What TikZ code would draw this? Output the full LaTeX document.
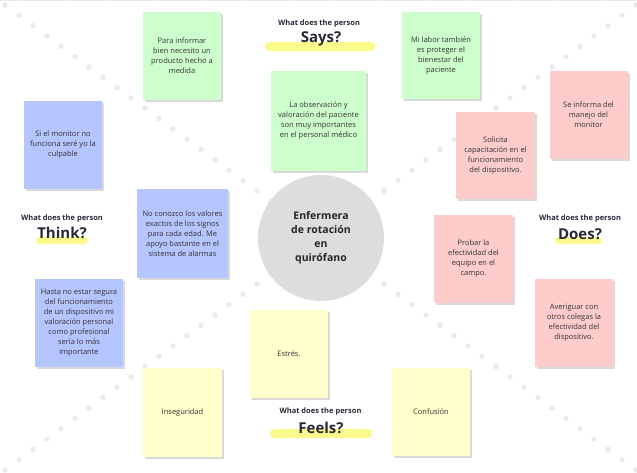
\documentclass[tikz,border=0pt]{standalone}
\usepackage{fontspec}
\setmainfont{Open Sans}
\usetikzlibrary{shadows}

\definecolor{notegreen}{RGB}{204,255,204}
\definecolor{notered}{RGB}{255,204,204}
\definecolor{noteblue}{RGB}{181,197,255}
\definecolor{noteyellow}{RGB}{255,255,204}
\definecolor{hubgray}{RGB}{221,221,221}
\definecolor{dotgray}{RGB}{234,234,234}
\definecolor{marker}{RGB}{250,250,140}
\definecolor{ink}{RGB}{51,51,51}
\definecolor{titleink}{RGB}{40,40,55}

\tikzset{
  note/.style={inner sep=0pt, text=ink, align=center,
    font=\fontsize{7.5}{10}\selectfont,
    drop shadow={shadow xshift=2pt, shadow yshift=-2pt, fill=black!15, opacity=1}},
  smallnote/.style={note, minimum width=78pt, minimum height=88pt},
  asktitle/.style={inner sep=0pt, text=titleink, font=\bfseries\fontsize{7.5}{9}\selectfont},
  bigword/.style={inner sep=0pt, text=titleink, font=\bfseries\fontsize{15}{17}\selectfont},
  markbar/.style={fill=marker, rounded corners=4pt},
  hub/.style={circle, fill=hubgray, minimum size=126pt, inner sep=0pt, align=center,
    text=black!85, font=\bfseries\fontsize{10.5}{14}\selectfont},
  dotfill/.style={fill=dotgray}
}

\begin{document}
\begin{tikzpicture}[x=1pt, y=-1pt]
  \useasboundingbox (0,0) rectangle (637,472);

  % faint rule along the top edge
  \draw[black!9, line width=1pt, dash pattern=on 43.8pt off 1pt, dash phase=22pt] (0,0.5) -- (637,0.5);

  % dotted diagonals from the four corners to the hub
  \foreach \k in {0,...,22} {
    \fill[dotfill] (5+14*\k, 5+10.33*\k) circle (2.7pt);
    \fill[dotfill] (636-14*\k, 5+10.33*\k) circle (2.7pt);
    \fill[dotfill] (5+14*\k, 470-10.33*\k) circle (2.7pt);
    \fill[dotfill] (636-14*\k, 470-10.33*\k) circle (2.7pt);
  }

  % central persona
  \node[hub] (hub) at (321,238) {Enfermera\\de rotación\\en\\quirófano};

  % Says
  \fill[markbar] (265,42) rectangle (375,51);
  \node[asktitle] (saysq) at (319,24) {What does the person};
  \node[bigword] (says) at (321,39) {Says?};
  \node[smallnote, fill=notegreen] (s1) at (182,56)
    {Para informar\\bien necesito un\\producto hecho a\\medida};
  \node[smallnote, fill=notegreen, minimum height=87pt] (s2) at (441,55.5)
    {Mi labor también\\es proteger el\\bienestar del\\paciente};
  \node[note, fill=notegreen, minimum width=95pt, minimum height=100pt] (s3) at (318.5,121)
    {La observación y\\valoración del paciente\\son muy importantes\\en el personal médico};

  % Think
  \fill[markbar, rounded corners=3.5pt] (36,237) rectangle (88,244);
  \node[asktitle] (thinkq) at (62,218.5) {What does the person};
  \node[bigword] (think) at (62,233) {Think?};
  \node[smallnote, fill=noteblue] (t1) at (63,145)
    {Si el monitor no\\funciona seré yo la\\culpable};
  \node[note, fill=noteblue, minimum width=91pt, minimum height=89pt] (t2) at (182.5,233.5)
    {No conozco los valores\\exactos de los signos\\para cada edad. Me\\apoyo bastante en el\\sistema de alarmas};
  \node[note, fill=noteblue, minimum width=88pt, minimum height=88pt] (t3) at (79,323)
    {Hasta no estar segura\\del funcionamiento\\de un dispositivo mi\\valoración personal\\como profesional\\sería lo más\\importante};

  % Does
  \fill[markbar, rounded corners=3.5pt] (555,237) rectangle (602,244);
  \node[asktitle] (doesq) at (580,219) {What does the person};
  \node[bigword] (does) at (580,234) {Does?};
  \node[smallnote, fill=notered] (d1) at (588.5,115)
    {Se informa del\\manejo del\\monitor};
  \node[smallnote, fill=notered, minimum width=79pt, minimum height=87pt] (d2) at (495.5,155.5)
    {Solicita\\capacitación en el\\funcionamiento\\del dispositivo.};
  \node[smallnote, fill=notered, minimum width=79pt] (d3) at (473.5,259)
    {Probar la\\efectividad del\\equipo en el\\campo.};
  \node[smallnote, fill=notered] (d4) at (574,323)
    {Averiguar con\\otros colegas la\\efectividad del\\dispositivo.};

  % Feels
  \fill[markbar] (270,429) rectangle (372,438);
  \node[asktitle] (feelsq) at (320.5,412) {What does the person};
  \node[bigword] (feels) at (321,428) {Feels?};
  \node[smallnote, fill=noteyellow] (f1) at (289,354) {Estrés.};
  \node[smallnote, fill=noteyellow, minimum width=79pt, minimum height=89pt] (f2) at (182.5,412.5) {Inseguridad};
  \node[smallnote, fill=noteyellow] (f3) at (431,412) {Confusión};
\end{tikzpicture}
\end{document}
